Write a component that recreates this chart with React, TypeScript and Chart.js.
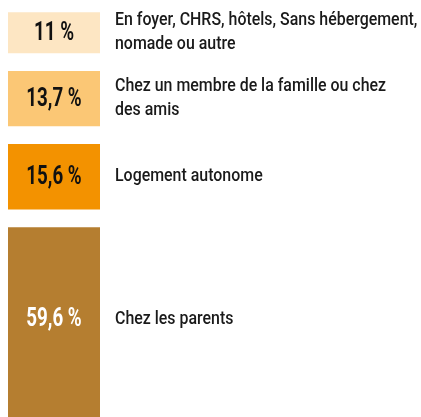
import React, { useEffect, useRef } from "react";
import { Chart, registerables } from "chart.js";

Chart.register(...registerables);

// Stack order: bottom to top
const categories: string[][] = [
  ["Chez les parents"],
  ["Logement autonome"],
  ["Chez un membre de la famille ou chez", "des amis"],
  ["En foyer, CHRS, hôtels, Sans hébergement,", "nomade ou autre"],
];
const values: number[] = [59.6, 15.6, 13.7, 11];
const valueLabels: string[] = ["59,6 %", "15,6 %", "13,7 %", "11 %"];
const colors: string[] = ["#b57e30", "#f39200", "#fbc775", "#fde6c3"];
const valueTextColors: string[] = ["#ffffff", "#111111", "#111111", "#111111"];

const GAP = 18;

export default function App() {
  const ref = useRef<HTMLCanvasElement | null>(null);

  useEffect(() => {
    if (!ref.current) return;
    const labelPlugin = {
      id: "segLabels",
      afterDatasetsDraw(chart: any) {
        const ctx = chart.ctx;
        const area = chart.chartArea;
        chart.data.datasets.forEach((ds: any, i: number) => {
          const el = chart.getDatasetMeta(i).data[0] as any;
          if (!el) return;
          const top = Math.max(el.y, area.top);
          const bottom = el.base - GAP > area.bottom ? area.bottom - 6 : el.base - GAP;
          const cy = (top + bottom) / 2;
          // value label inside bar
          ctx.save();
          ctx.font = "bold 25px Roboto";
          ctx.fillStyle = valueTextColors[i];
          ctx.textAlign = "center";
          ctx.textBaseline = "middle";
          ctx.translate(el.x, cy + 1);
          ctx.scale(0.75, 1);
          ctx.fillText(valueLabels[i], 0, 0);
          ctx.restore();
          // category label on the right
          const lines = categories[i];
          const lh = 24.5;
          ctx.save();
          ctx.font = "500 18px Roboto";
          ctx.fillStyle = "#1a1a1a";
          ctx.textAlign = "left";
          ctx.textBaseline = "middle";
          const startY = cy - ((lines.length - 1) * lh) / 2;
          lines.forEach((ln, j) => {
            ctx.save();
            ctx.translate(area.right + 15, startY + j * lh);
            ctx.scale(0.885, 1);
            ctx.fillText(ln, 0, 0);
            ctx.restore();
          });
          ctx.restore();
        });
      },
    };

    const chart = new Chart(ref.current, {
      type: "bar",
      data: {
        labels: [""],
        datasets: values.map((v, i) => ({
          label: categories[i].join(" "),
          data: [v],
          backgroundColor: colors[i],
          borderColor: "#ffffff",
          borderWidth: { top: 0, left: 0, right: 0, bottom: GAP },
          borderSkipped: false,
          barPercentage: 1,
          categoryPercentage: 1,
        })),
      },
      options: {
        animation: false,
        responsive: true,
        maintainAspectRatio: false,
        layout: { padding: { left: 8, right: 321, top: 0, bottom: 0 } },
        plugins: { legend: { display: false }, tooltip: { enabled: false } },
        scales: {
          x: { stacked: true, display: false },
          y: { stacked: true, display: false, min: 24, max: 102.2 },
        },
      },
      plugins: [labelPlugin],
    });
    return () => chart.destroy();
  }, []);

  return (
    <div style={{ position: "fixed", left: 0, top: 0, width: 421, height: 417, background: "#fff" }}>
      <canvas ref={ref} />
    </div>
  );
}
